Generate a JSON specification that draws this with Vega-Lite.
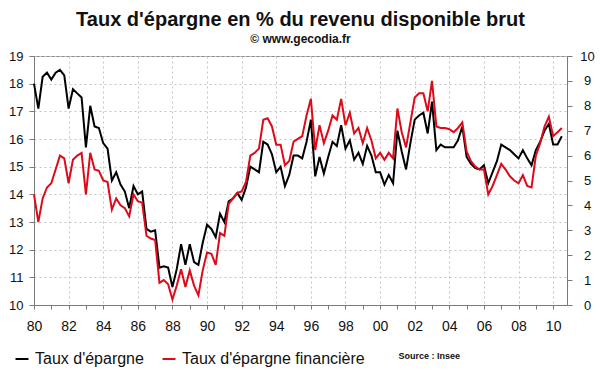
{
  "$schema": "https://vega.github.io/schema/vega-lite/v6.json",
  "autosize": {"type": "none"},
  "width": 533,
  "height": 249,
  "padding": {"left": 34, "top": 56, "right": 33, "bottom": 67},
  "background": "white",
  "title": {
    "text": "Taux d'épargne en % du revenu disponible brut",
    "subtitle": "© www.gecodia.fr",
    "anchor": "middle",
    "font": "Liberation Sans",
    "fontSize": 20,
    "fontWeight": "bold",
    "color": "#111",
    "subtitleFont": "Liberation Sans",
    "subtitleFontSize": 12,
    "subtitleFontWeight": "bold",
    "subtitleColor": "#111",
    "subtitlePadding": 4,
    "offset": 5
  },
  "config": {
    "view": {"stroke": "#8a8a8a", "strokeWidth": 1},
    "axis": {
      "labelFont": "Liberation Sans",
      "titleFont": "Liberation Sans",
      "labelColor": "#111",
      "domainColor": "#7a7a7a",
      "tickColor": "#7a7a7a",
      "gridColor": "#c4c4c4",
      "gridDash": [2, 3]
    },
    "legend": {
      "labelFont": "Liberation Sans"
    }
  },
  "data": {
    "values": [
      {"t": 1980.0, "epargne": 18.0, "financiere": 4.44},
      {"t": 1980.25, "epargne": 17.1, "financiere": 3.33},
      {"t": 1980.5, "epargne": 18.25, "financiere": 4.28},
      {"t": 1980.75, "epargne": 18.4, "financiere": 4.72},
      {"t": 1981.0, "epargne": 18.15, "financiere": 4.89},
      {"t": 1981.25, "epargne": 18.4, "financiere": 5.44},
      {"t": 1981.5, "epargne": 18.5, "financiere": 6.0},
      {"t": 1981.75, "epargne": 18.3, "financiere": 5.89},
      {"t": 1982.0, "epargne": 17.1, "financiere": 4.89},
      {"t": 1982.25, "epargne": 17.8, "financiere": 5.83},
      {"t": 1982.5, "epargne": 17.65, "financiere": 6.0},
      {"t": 1982.75, "epargne": 17.5, "financiere": 6.11},
      {"t": 1983.0, "epargne": 15.7, "financiere": 4.44},
      {"t": 1983.25, "epargne": 17.2, "financiere": 6.11},
      {"t": 1983.5, "epargne": 16.45, "financiere": 5.44},
      {"t": 1983.75, "epargne": 16.4, "financiere": 5.39},
      {"t": 1984.0, "epargne": 15.85, "financiere": 5.0},
      {"t": 1984.25, "epargne": 15.65, "financiere": 4.94},
      {"t": 1984.5, "epargne": 14.5, "financiere": 3.83},
      {"t": 1984.75, "epargne": 14.8, "financiere": 4.28},
      {"t": 1985.0, "epargne": 14.35, "financiere": 4.0},
      {"t": 1985.25, "epargne": 14.1, "financiere": 3.89},
      {"t": 1985.5, "epargne": 13.5, "financiere": 3.56},
      {"t": 1985.75, "epargne": 14.3, "financiere": 4.44},
      {"t": 1986.0, "epargne": 14.0, "financiere": 4.17},
      {"t": 1986.25, "epargne": 14.1, "financiere": 4.11},
      {"t": 1986.5, "epargne": 12.75, "financiere": 2.78},
      {"t": 1986.75, "epargne": 12.65, "financiere": 2.67},
      {"t": 1987.0, "epargne": 12.7, "financiere": 2.61},
      {"t": 1987.25, "epargne": 11.35, "financiere": 0.89},
      {"t": 1987.5, "epargne": 11.4, "financiere": 1.0},
      {"t": 1987.75, "epargne": 11.35, "financiere": 0.83},
      {"t": 1988.0, "epargne": 10.65, "financiere": 0.22},
      {"t": 1988.25, "epargne": 11.3, "financiere": 0.78},
      {"t": 1988.5, "epargne": 12.2, "financiere": 1.44},
      {"t": 1988.75, "epargne": 11.45, "financiere": 0.72},
      {"t": 1989.0, "epargne": 12.2, "financiere": 1.39},
      {"t": 1989.25, "epargne": 11.55, "financiere": 0.78},
      {"t": 1989.5, "epargne": 11.45, "financiere": 0.39},
      {"t": 1989.75, "epargne": 12.25, "financiere": 1.39},
      {"t": 1990.0, "epargne": 12.9, "financiere": 2.11},
      {"t": 1990.25, "epargne": 12.75, "financiere": 2.06},
      {"t": 1990.5, "epargne": 12.45, "financiere": 1.61},
      {"t": 1990.75, "epargne": 13.3, "financiere": 2.89},
      {"t": 1991.0, "epargne": 13.0, "financiere": 2.78},
      {"t": 1991.25, "epargne": 13.75, "financiere": 4.06},
      {"t": 1991.5, "epargne": 13.85, "financiere": 4.28},
      {"t": 1991.75, "epargne": 14.05, "financiere": 4.5},
      {"t": 1992.0, "epargne": 13.8, "financiere": 4.56},
      {"t": 1992.25, "epargne": 14.25, "financiere": 4.94},
      {"t": 1992.5, "epargne": 15.0, "financiere": 6.0},
      {"t": 1992.75, "epargne": 14.9, "financiere": 6.11},
      {"t": 1993.0, "epargne": 14.8, "financiere": 6.28},
      {"t": 1993.25, "epargne": 15.9, "financiere": 7.44},
      {"t": 1993.5, "epargne": 15.8, "financiere": 7.5},
      {"t": 1993.75, "epargne": 15.45, "financiere": 7.17},
      {"t": 1994.0, "epargne": 14.8, "financiere": 6.44},
      {"t": 1994.25, "epargne": 15.0, "financiere": 6.44},
      {"t": 1994.5, "epargne": 14.3, "financiere": 5.61},
      {"t": 1994.75, "epargne": 14.7, "financiere": 5.78},
      {"t": 1995.0, "epargne": 15.4, "financiere": 6.56},
      {"t": 1995.25, "epargne": 15.4, "financiere": 6.67},
      {"t": 1995.5, "epargne": 15.3, "financiere": 6.78},
      {"t": 1995.75, "epargne": 15.9, "financiere": 7.61},
      {"t": 1996.0, "epargne": 16.7, "financiere": 8.28},
      {"t": 1996.25, "epargne": 14.65, "financiere": 6.22},
      {"t": 1996.5, "epargne": 15.35, "financiere": 7.22},
      {"t": 1996.75, "epargne": 14.75, "financiere": 6.5},
      {"t": 1997.0, "epargne": 15.35, "financiere": 7.0},
      {"t": 1997.25, "epargne": 15.9, "financiere": 7.61},
      {"t": 1997.5, "epargne": 15.75, "financiere": 7.44},
      {"t": 1997.75, "epargne": 16.5, "financiere": 8.28},
      {"t": 1998.0, "epargne": 15.65, "financiere": 7.22},
      {"t": 1998.25, "epargne": 15.95, "financiere": 7.72},
      {"t": 1998.5, "epargne": 15.25, "financiere": 6.89},
      {"t": 1998.75, "epargne": 15.5, "financiere": 7.11},
      {"t": 1999.0, "epargne": 15.1, "financiere": 6.5},
      {"t": 1999.25, "epargne": 15.75, "financiere": 7.11},
      {"t": 1999.5, "epargne": 15.4, "financiere": 6.61},
      {"t": 1999.75, "epargne": 14.8, "financiere": 5.89},
      {"t": 2000.0, "epargne": 14.8, "financiere": 6.11},
      {"t": 2000.25, "epargne": 14.35, "financiere": 5.83},
      {"t": 2000.5, "epargne": 14.7, "financiere": 6.11},
      {"t": 2000.75, "epargne": 14.4, "financiere": 5.89},
      {"t": 2001.0, "epargne": 16.3, "financiere": 7.89},
      {"t": 2001.25, "epargne": 15.55, "financiere": 6.94},
      {"t": 2001.5, "epargne": 14.9, "financiere": 6.33},
      {"t": 2001.75, "epargne": 15.85, "financiere": 7.33},
      {"t": 2002.0, "epargne": 16.7, "financiere": 8.33},
      {"t": 2002.25, "epargne": 16.85, "financiere": 8.5},
      {"t": 2002.5, "epargne": 16.95, "financiere": 8.5},
      {"t": 2002.75, "epargne": 16.2, "financiere": 7.78},
      {"t": 2003.0, "epargne": 17.35, "financiere": 9.0},
      {"t": 2003.25, "epargne": 15.6, "financiere": 7.17},
      {"t": 2003.5, "epargne": 15.8, "financiere": 7.11},
      {"t": 2003.75, "epargne": 15.7, "financiere": 7.11},
      {"t": 2004.0, "epargne": 15.7, "financiere": 7.06},
      {"t": 2004.25, "epargne": 15.7, "financiere": 6.94},
      {"t": 2004.5, "epargne": 15.95, "financiere": 7.11},
      {"t": 2004.75, "epargne": 16.45, "financiere": 7.33},
      {"t": 2005.0, "epargne": 15.35, "financiere": 6.17},
      {"t": 2005.25, "epargne": 15.1, "financiere": 5.78},
      {"t": 2005.5, "epargne": 14.95, "financiere": 5.56},
      {"t": 2005.75, "epargne": 14.9, "financiere": 5.44},
      {"t": 2006.0, "epargne": 15.05, "financiere": 5.44},
      {"t": 2006.25, "epargne": 14.4, "financiere": 4.44},
      {"t": 2006.5, "epargne": 14.8, "financiere": 4.78},
      {"t": 2006.75, "epargne": 15.2, "financiere": 5.22},
      {"t": 2007.0, "epargne": 15.8, "financiere": 5.67},
      {"t": 2007.25, "epargne": 15.7, "financiere": 5.44},
      {"t": 2007.5, "epargne": 15.6, "financiere": 5.17},
      {"t": 2007.75, "epargne": 15.45, "financiere": 5.0},
      {"t": 2008.0, "epargne": 15.3, "financiere": 4.89},
      {"t": 2008.25, "epargne": 15.6, "financiere": 5.22},
      {"t": 2008.5, "epargne": 15.3, "financiere": 4.78},
      {"t": 2008.75, "epargne": 15.05, "financiere": 4.72},
      {"t": 2009.0, "epargne": 15.6, "financiere": 6.0},
      {"t": 2009.25, "epargne": 15.9, "financiere": 6.5},
      {"t": 2009.5, "epargne": 16.3, "financiere": 7.17},
      {"t": 2009.75, "epargne": 16.55, "financiere": 7.56},
      {"t": 2010.0, "epargne": 15.8, "financiere": 6.78},
      {"t": 2010.25, "epargne": 15.8, "financiere": 6.94},
      {"t": 2010.5, "epargne": 16.1, "financiere": 7.11}
    ]
  },
  "encoding": {
    "x": {
      "field": "t",
      "type": "quantitative",
      "scale": {"domain": [1980, 2010.8], "nice": false, "zero": false},
      "axis": {
        "values": [1980, 1981, 1982, 1983, 1984, 1985, 1986, 1987, 1988, 1989, 1990, 1991, 1992, 1993, 1994, 1995, 1996, 1997, 1998, 1999, 2000, 2001, 2002, 2003, 2004, 2005, 2006, 2007, 2008, 2009, 2010],
        "labelExpr": "datum.value % 2 === 0 ? substring(toString(datum.value), 2) : ''",
        "labelFontSize": 14,
        "labelPadding": 10,
        "labelFlush": false,
        "labelOverlap": false,
        "tickSize": 4,
        "grid": true,
        "gridOpacity": {"condition": {"test": "datum.value % 2 === 0 && datum.value > 1980", "value": 1}, "value": 0},
        "title": "Source : Insee",
        "titleFontSize": 9,
        "titleFontWeight": "bold",
        "titleColor": "#111",
        "titleAlign": "left",
        "titleBaseline": "alphabetic",
        "titleX": 364,
        "titleY": 53
      }
    },
    "color": {
      "scale": {
        "domain": ["Taux d'épargne", "Taux d'épargne financière"],
        "range": ["#000000", "#dd0a1a"]
      },
      "legend": {
        "title": null,
        "orient": "none",
        "direction": "horizontal",
        "legendX": -20,
        "legendY": 295,
        "symbolType": "stroke",
        "symbolSize": 169,
        "symbolStrokeWidth": 2,
        "labelFontSize": 16,
        "labelLimit": 400,
        "labelColor": "#111",
        "labelOffset": 5,
        "columnPadding": 14,
        "padding": 0
      }
    }
  },
  "layer": [
    {
      "mark": {"type": "line", "strokeWidth": 2, "interpolate": "linear"},
      "encoding": {
        "y": {
          "field": "epargne",
          "type": "quantitative",
          "scale": {"domain": [10, 19], "nice": false, "zero": false},
          "axis": {
            "orient": "left",
            "values": [10, 11, 12, 13, 14, 15, 16, 17, 18, 19],
            "labelFontSize": 13,
            "labelPadding": 6,
            "tickSize": 5,
            "grid": true,
            "title": null
          }
        },
        "color": {"datum": "Taux d'épargne"}
      }
    },
    {
      "mark": {"type": "line", "strokeWidth": 2, "interpolate": "linear"},
      "encoding": {
        "y": {
          "field": "financiere",
          "type": "quantitative",
          "scale": {"domain": [0, 10], "nice": false, "zero": false},
          "axis": {
            "orient": "right",
            "values": [0, 1, 2, 3, 4, 5, 6, 7, 8, 9, 10],
            "labelFontSize": 13,
            "labelAlign": "center",
            "labelPadding": 15,
            "tickSize": 5,
            "grid": false,
            "title": null
          }
        },
        "color": {"datum": "Taux d'épargne financière"}
      }
    }
  ],
  "resolve": {"scale": {"y": "independent"}}
}
